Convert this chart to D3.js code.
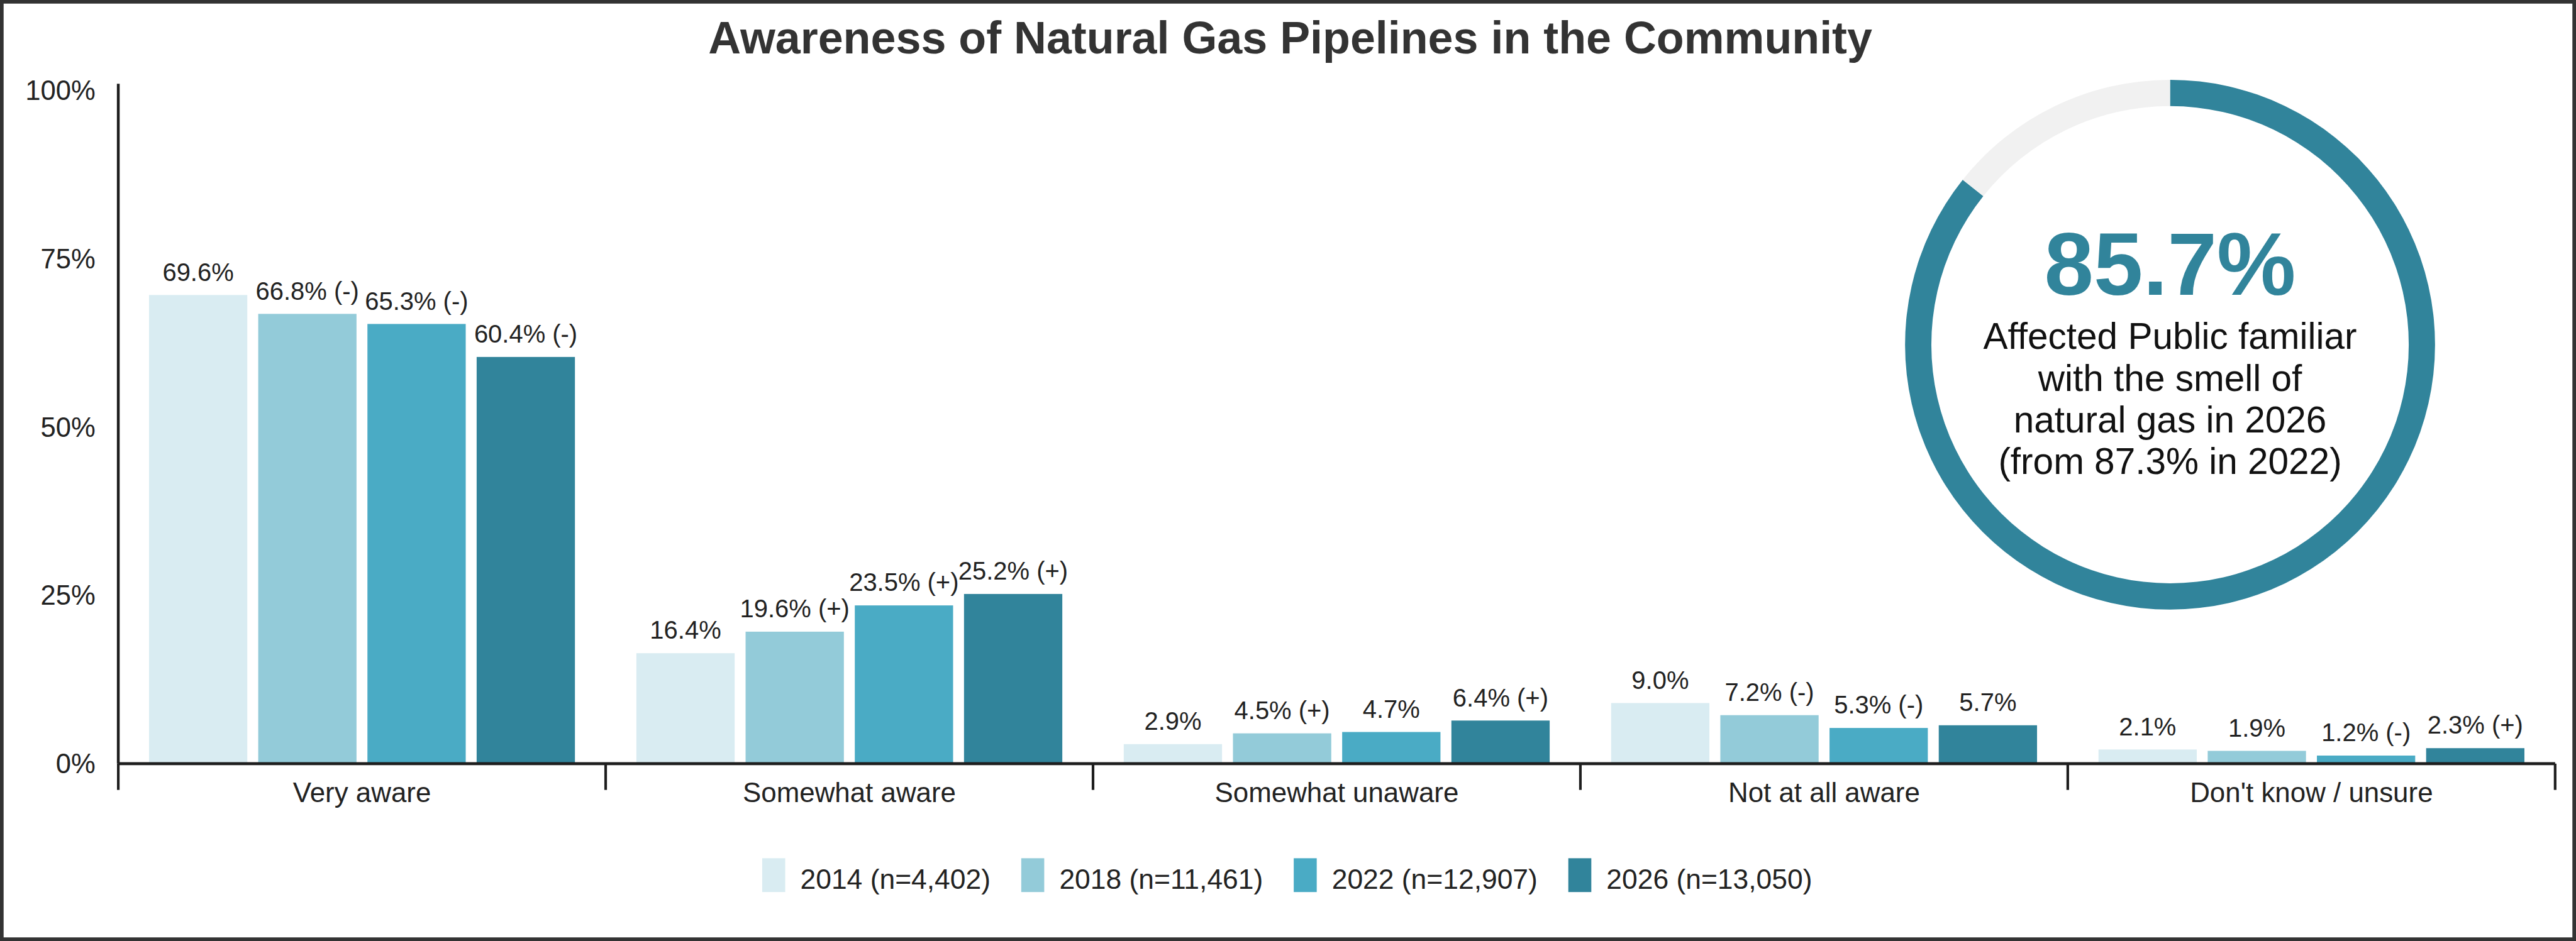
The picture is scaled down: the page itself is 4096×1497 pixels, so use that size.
<!DOCTYPE html>
<html>
<head>
<meta charset="utf-8">
<script src="https://cdn.jsdelivr.net/npm/d3@7"></script>
<style>
  html, body { margin: 0; padding: 0; background: #ffffff; }
  svg { display: block; }
  text { font-family: "Liberation Sans", Arial, Helvetica, sans-serif; }
</style>
</head>
<body>
<svg id="chart"></svg>
<script>
// ---------- data ----------
const title = "Awareness of Natural Gas Pipelines in the Community";
const categories = ["Very aware", "Somewhat aware", "Somewhat unaware", "Not at all aware", "Don't know / unsure"];
const years = ["2014", "2018", "2022", "2026"];
const legendLabels = ["2014 (n=4,402)", "2018 (n=11,461)", "2022 (n=12,907)", "2026 (n=13,050)"];
const values2014 = [69.6, 16.4, 2.9, 9.0, 2.1];
const values2018 = [66.8, 19.6, 4.5, 7.2, 1.9];
const values2022 = [65.3, 23.5, 4.7, 5.3, 1.2];
const values2026 = [60.4, 25.2, 6.4, 5.7, 2.3];
const sig2014 = ["", "", "", "", ""];
const sig2018 = ["-", "+", "+", "-", ""];
const sig2022 = ["-", "+", "", "-", "-"];
const sig2026 = ["-", "+", "+", "", "+"];
const yTicks = [0, 25, 50, 75, 100];
const colors = ["#d9ecf2", "#93cbd9", "#4aabc5", "#31849b"];
const donutValue = 85.7;
const donutLabel = "85.7%";
const donutLines = ["Affected Public familiar", "with the smell of", "natural gas in 2026", "(from 87.3% in 2022)"];

const seriesValues = [values2014, values2018, values2022, values2026];
const seriesSig = [sig2014, sig2018, sig2022, sig2026];

// ---------- layout (drawn in a 1568x573 design space, scaled to window) ----------
const W = 1568, H = 573;
const svg = d3.select("#chart")
  .attr("width", 4096).attr("height", 1497)
  .attr("viewBox", `0 0 ${W} ${H}`)
  .attr("preserveAspectRatio", "none");

svg.append("rect").attr("x", 0).attr("y", 0).attr("width", W).attr("height", H).attr("fill", "#fff");

const axisColor = "#1e1e1e";
const textColor = "#222222";

// title
svg.append("text")
  .attr("x", 785.4).attr("y", 32.7)
  .attr("text-anchor", "middle")
  .attr("font-weight", "bold")
  .attr("font-size", 27.5)
  .attr("fill", "#333333")
  .text(title);

// scales
const left = 72, right = 1555.3, y0 = 465, y100 = 55;
const x0 = d3.scaleBand().domain(categories).range([left, right]).padding(0);
const pad = 18.7;
const x1 = d3.scaleBand().domain(years).range([pad, x0.bandwidth() - pad]).paddingInner(0.1);
const y = d3.scaleLinear().domain([0, 100]).range([y0, y100]);

// bars
const rows = [];
categories.forEach((c, ci) => {
  years.forEach((yr, si) => {
    rows.push({ cat: c, year: yr, si, v: seriesValues[si][ci], sig: seriesSig[si][ci] });
  });
});

const plot = svg.append("g");
plot.selectAll("rect.bar").data(rows).join("rect")
  .attr("class", "bar")
  .attr("x", d => x0(d.cat) + x1(d.year))
  .attr("width", x1.bandwidth())
  .attr("y", d => y(d.v))
  .attr("height", d => y(0) - y(d.v))
  .attr("fill", d => colors[d.si]);

plot.selectAll("text.val").data(rows).join("text")
  .attr("class", "val")
  .attr("x", d => x0(d.cat) + x1(d.year) + x1.bandwidth() / 2)
  .attr("y", d => y(d.v) - 8.7)
  .attr("text-anchor", "middle")
  .attr("font-size", 15.3)
  .attr("fill", textColor)
  .text(d => d.v.toFixed(1) + "%" + (d.sig ? " (" + d.sig + ")" : ""));

// y axis
const yAxis = svg.append("g").attr("transform", `translate(${left},0)`)
  .call(d3.axisLeft(y).tickValues(yTicks).tickSize(0).tickPadding(13.9).tickFormat(d => d + "%"));
yAxis.select(".domain").remove();
yAxis.selectAll("text").attr("font-size", 16.7).attr("fill", textColor).attr("font-family", null);

const tickLen = 16;
svg.append("line")
  .attr("x1", left).attr("x2", left)
  .attr("y1", y(100) - 4).attr("y2", y(0))
  .attr("stroke", axisColor).attr("stroke-width", 1.7);

// x axis
const xAxis = svg.append("g").attr("transform", `translate(0,${y0})`)
  .call(d3.axisBottom(x0).tickSize(0).tickPadding(11.3));
xAxis.select(".domain").remove();
xAxis.selectAll("text").attr("font-size", 16.8).attr("fill", textColor).attr("font-family", null);

svg.append("line")
  .attr("x1", left).attr("x2", right)
  .attr("y1", y(0)).attr("y2", y(0))
  .attr("stroke", axisColor).attr("stroke-width", 1.8);

const boundaries = categories.map(c => x0(c)).concat([x0.range()[1]]);
svg.selectAll("line.bound").data(boundaries).join("line")
  .attr("class", "bound")
  .attr("x1", d => d).attr("x2", d => d)
  .attr("y1", y(0)).attr("y2", y(0) + tickLen)
  .attr("stroke", axisColor).attr("stroke-width", 1.6);

// legend
const legend = svg.append("g");
const legendFont = 17.0, swW = 14, swH = 20.6, swGap = 9.2, itemGap = 18.7;
let lx = 0;
legendLabels.forEach((lab, i) => {
  const g = legend.append("g");
  g.append("rect").attr("x", 0).attr("y", 522.6).attr("width", swW).attr("height", swH).attr("fill", colors[i]);
  const t = g.append("text").attr("x", swW + swGap).attr("y", 541.4)
    .attr("font-size", legendFont).attr("fill", textColor).text(lab);
  const w = swW + swGap + t.node().getComputedTextLength();
  g.attr("transform", `translate(${lx},0)`);
  lx += w + itemGap;
});
const legendWidth = lx - itemGap;
legend.attr("transform", `translate(${783.5 - legendWidth / 2},0)`);

// donut
const cx = 1320.9, cy = 209.9, rOuter = 161.3, rInner = 145.3;
const pie = d3.pie().sort(null).value(d => d);
const arcs = pie([donutValue, 100 - donutValue]);
const arc = d3.arc().innerRadius(rInner).outerRadius(rOuter);
const donut = svg.append("g").attr("transform", `translate(${cx},${cy})`);
donut.selectAll("path").data(arcs).join("path")
  .attr("d", arc)
  .attr("fill", (d, i) => i === 0 ? "#31849b" : "#f1f1f1");

donut.append("text")
  .attr("x", 0).attr("y", 179.6 - cy)
  .attr("text-anchor", "middle")
  .attr("font-weight", "bold")
  .attr("font-size", 54)
  .attr("fill", "#31849b")
  .text(donutLabel);

donut.selectAll("text.line").data(donutLines).join("text")
  .attr("class", "line")
  .attr("x", 0)
  .attr("y", (d, i) => 212.5 - cy + i * 25.4)
  .attr("text-anchor", "middle")
  .attr("font-size", 22.4)
  .attr("fill", "#111111")
  .text(d => d);

// frame
svg.append("rect")
  .attr("x", 1.1).attr("y", 1.1).attr("width", W - 2.2).attr("height", H - 2.2)
  .attr("fill", "none").attr("stroke", "#333333").attr("stroke-width", 2.2);
</script>
</body>
</html>
